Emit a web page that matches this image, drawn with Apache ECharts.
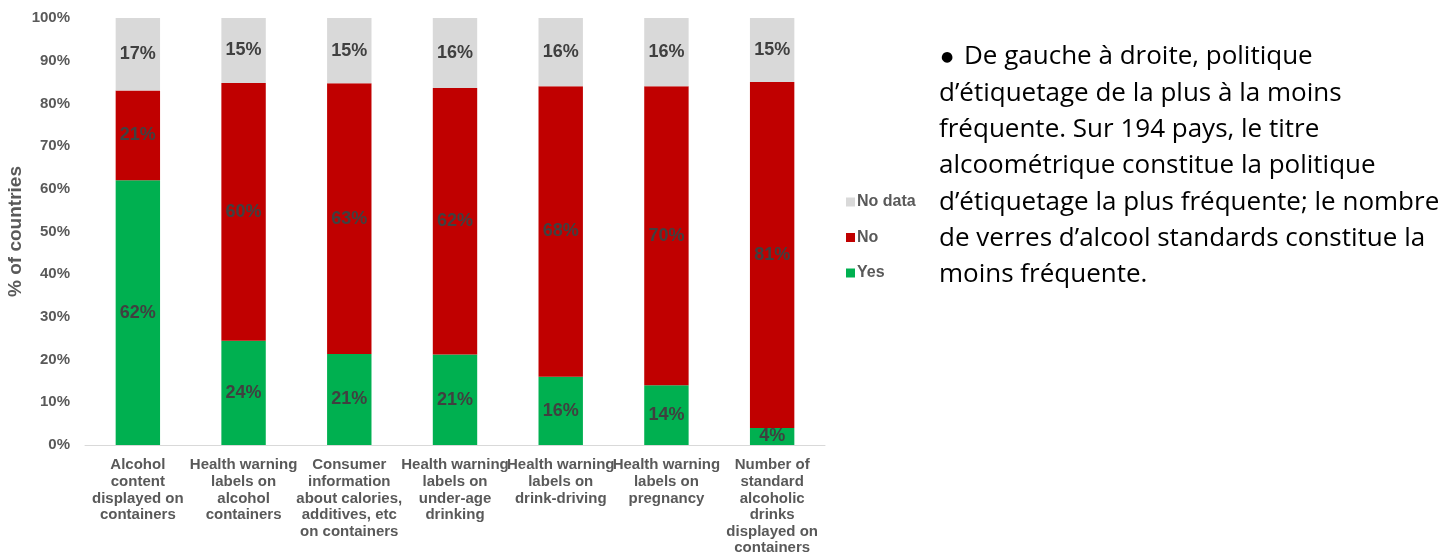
<!DOCTYPE html>
<html><head><meta charset="utf-8">
<script src="https://cdn.jsdelivr.net/npm/echarts@6/dist/echarts.min.js"></script>
<style>html,body{margin:0;padding:0;background:#fff}#c{width:1453px;height:556px}</style>
</head><body><div id="c"></div>
<script>
const categories = [
  "Alcohol\ncontent\ndisplayed on\ncontainers",
  "Health warning\nlabels on\nalcohol\ncontainers",
  "Consumer\ninformation\nabout calories,\nadditives, etc\non containers",
  "Health warning\nlabels on\nunder-age\ndrinking",
  "Health warning\nlabels on\ndrink-driving",
  "Health warning\nlabels on\npregnancy",
  "Number of\nstandard\nalcoholic\ndrinks\ndisplayed on\ncontainers"
];
const yesValues    = [62, 24.4, 21.3, 21.2, 16, 14, 4];
const noValues     = [21, 60.4, 63.4, 62.4, 68, 70, 81];
const noDataValues = [17, 15.2, 15.3, 16.4, 16, 16, 15];
const yTickLabels = ["0%","10%","20%","30%","40%","50%","60%","70%","80%","90%","100%"];
const noteLines = [
  "De gauche à droite, politique",
  "d\u2019étiquetage de la plus à la moins",
  "fréquente. Sur 194 pays, le titre",
  "alcoométrique constitue la politique",
  "d\u2019étiquetage la plus fréquente; le nombre",
  "de verres d\u2019alcool standards constitue la",
  "moins fréquente."
];

const chart = echarts.init(document.getElementById('c'), null, {renderer:'canvas'});
const labelStyle = {
  show: true, position: 'inside', color: '#404040', fontWeight: 'bold',
  fontSize: 18, fontFamily: 'Liberation Sans, Arial, sans-serif',
  formatter: p => Math.round(p.value) + '%'
};
function mk(name, data, color) {
  return { name, type: 'bar', stack: 'a', data, barWidth: '42%',
    itemStyle: { color }, label: labelStyle, emphasis: { disabled: true } };
}
const noteText = '{b|\u25CF}{t| ' + noteLines[0] + '}\n' +
  noteLines.slice(1).map(l => '{t|' + l + '}').join('\n');
chart.setOption({
  animation: false,
  textStyle: { fontFamily: 'Liberation Sans, Arial, sans-serif' },
  grid: { left: 85, right: 628, top: 18, bottom: 111, containLabel: false, outerBoundsMode: 'none' },
  legend: {
    orient: 'vertical', left: 841, top: 189, itemGap: 19.5,
    itemWidth: 9, itemHeight: 9, icon: 'rect',
    data: ['No data', 'No', 'Yes'],
    textStyle: { color: '#595959', fontWeight: 'bold', fontSize: 16, padding: [0,0,0,-3] }
  },
  xAxis: {
    type: 'category', data: categories,
    axisLine: { lineStyle: { color: '#d9d9d9', width: 1 } },
    axisTick: { show: false },
    axisLabel: { interval: 0, color: '#595959', fontWeight: 'bold', fontSize: 15,
      lineHeight: 16.6, margin: 12 }
  },
  yAxis: {
    type: 'value', min: 0, max: 100, interval: 10,
    name: '% of countries', nameLocation: 'middle', nameGap: 60, nameRotate: 90,
    nameMoveOverlap: false,
    nameTextStyle: { color: '#595959', fontWeight: 'bold', fontSize: 19 },
    axisLine: { show: false }, axisTick: { show: false }, splitLine: { show: false },
    axisLabel: { color: '#595959', fontWeight: 'bold', fontSize: 15, margin: 15,
      formatter: v => yTickLabels[Math.round(v / 10)] }
  },
  series: [
    mk('Yes', yesValues, '#00b050'),
    mk('No', noValues, '#c00000'),
    mk('No data', noDataValues, '#d9d9d9')
  ],
  graphic: [{
    type: 'text', left: 939, top: 44,
    style: { text: noteText, fill: '#000',
      rich: {
        t: { fontSize: 26, fontFamily: 'Open Sans, Noto Sans, sans-serif', lineHeight: 36.3, fill: '#000' },
        b: { fontSize: 14, fontFamily: 'DejaVu Sans, sans-serif', lineHeight: 36.3, fill: '#000', padding: [0, 4, 0, 2] }
      } }
  }]
});
</script></body></html>
